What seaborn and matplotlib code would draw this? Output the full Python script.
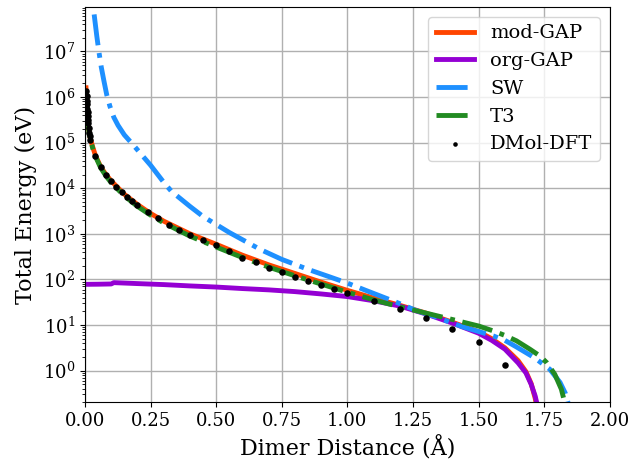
import matplotlib
matplotlib.use("Agg")
import matplotlib.pyplot as plt
import seaborn as sns

plt.rcParams['font.family'] = 'DejaVu Serif'
plt.rcParams['mathtext.fontset'] = 'dejavuserif'

# DMol-DFT reference points
dft_r = [0.005, 0.006, 0.007, 0.008, 0.009, 0.010, 0.011, 0.012, 0.013, 0.015,
         0.017, 0.019, 0.021, 0.04, 0.06, 0.08, 0.10, 0.12, 0.14, 0.16, 0.18,
         0.20, 0.24, 0.28, 0.32, 0.36, 0.40, 0.45, 0.50, 0.55, 0.60, 0.65,
         0.70, 0.75, 0.80, 0.85, 0.90, 0.95, 1.00, 1.10, 1.20, 1.30, 1.40,
         1.50, 1.60]
dft_e = [1.35e6, 1.05e6, 8.3e5, 6.9e5, 5.6e5, 4.6e5, 3.8e5, 3.2e5, 2.75e5,
         2.14e5, 1.66e5, 1.38e5, 1.17e5, 5.2e4, 2.95e4, 2.0e4, 1.45e4, 1.07e4,
         8.3e3, 6.5e3, 5.2e3, 4.3e3, 3.0e3, 2.2e3, 1.6e3, 1.2e3, 955, 725,
         560, 415, 300, 240, 182, 145, 112, 92, 76, 62, 50, 34, 22.4, 14,
         8.0, 4.2, 1.3]

# mod-GAP
mod_r = [0.004, 0.006, 0.008, 0.01, 0.015, 0.02, 0.03, 0.04, 0.06, 0.08, 0.10,
         0.15, 0.20, 0.25, 0.30, 0.40, 0.50, 0.60, 0.70, 0.80, 0.90, 1.00,
         1.10, 1.20, 1.30, 1.40, 1.50, 1.55, 1.60, 1.65, 1.68, 1.70, 1.715,
         1.722]
mod_e = [1.6e6, 1.0e6, 6.9e5, 4.7e5, 1.9e5, 1.26e5, 7.9e4, 5.2e4, 2.95e4,
         2.0e4, 1.45e4, 7.4e3, 4.4e3, 2.8e3, 1.9e3, 1.0e3, 590, 340, 209,
         135, 87, 57.5, 39, 27, 18.2, 11.5, 7.1, 5.0, 3.16, 1.66, 0.95, 0.52,
         0.25, 0.16]

# org-GAP
org_r = [0.0, 0.05, 0.10, 0.11, 0.2, 0.3, 0.4, 0.5, 0.6, 0.7, 0.8, 0.9, 1.0,
         1.1, 1.2, 1.3, 1.4, 1.5, 1.55, 1.6, 1.65, 1.68, 1.70, 1.715, 1.725]
org_e = [78, 78.5, 79.5, 85, 81, 77, 72, 68, 63, 59, 54, 48, 42, 34, 26,
         17.4, 11, 6.6, 4.6, 2.95, 1.48, 0.89, 0.5, 0.28, 0.16]

# SW
sw_r = [0.035, 0.045, 0.053, 0.062, 0.072, 0.083, 0.095, 0.11, 0.126, 0.15,
        0.184, 0.25, 0.30, 0.33, 0.40, 0.45, 0.55, 0.667, 0.75, 0.85, 0.93,
        1.0, 1.07, 1.19, 1.26, 1.33, 1.44, 1.50, 1.556, 1.60, 1.644, 1.707,
        1.727, 1.771, 1.81, 1.83, 1.845]
sw_e = [6.5e7, 2.2e7, 1.0e7, 4.6e6, 2.3e6, 1.12e6, 6.3e5, 3.6e5, 2.4e5,
        1.48e5, 8.9e4, 3.2e4, 1.35e4, 8.5e3, 4.0e3, 2.4e3, 1.07e3, 457, 275,
        166, 115, 83, 57.5, 31, 21, 15.5, 9.1, 7.2, 5.75, 4.6, 3.3, 2.0,
        1.66, 1.07, 0.55, 0.32, 0.16]

# T3
t3_r = [0.008, 0.01, 0.015, 0.02, 0.03, 0.04, 0.06, 0.08, 0.10, 0.15, 0.20,
        0.25, 0.30, 0.40, 0.50, 0.60, 0.70, 0.80, 0.90, 1.00, 1.10, 1.20,
        1.30, 1.40, 1.50, 1.556, 1.60, 1.644, 1.695, 1.733, 1.759, 1.79,
        1.815, 1.832]
t3_e = [6.3e5, 4.2e5, 1.78e5, 1.17e5, 7.4e4, 5.0e4, 2.8e4, 1.86e4, 1.32e4,
        6.8e3, 4.0e3, 2.57e3, 1.74e3, 890, 513, 302, 186, 120, 79, 52.5,
        35.5, 25, 18.2, 13.2, 9.5, 7.4, 5.9, 4.5, 2.95, 2.1, 1.5, 0.83,
        0.39, 0.16]

fig, ax = plt.subplots(figsize=(6.34, 4.61), dpi=100)
fig.subplots_adjust(left=0.134, right=0.962, top=0.985, bottom=0.127)

sns.lineplot(x=mod_r, y=mod_e, ax=ax, color='orangered', lw=3.5,
             label='mod-GAP')
sns.lineplot(x=org_r, y=org_e, ax=ax, color='darkviolet', lw=3.5,
             label='org-GAP')
sns.lineplot(x=sw_r, y=sw_e, ax=ax, color='dodgerblue', lw=3.5,
             linestyle='-.', label='SW')
sns.lineplot(x=t3_r, y=t3_e, ax=ax, color='forestgreen', lw=3.5,
             linestyle='-.', label='T3')
sns.scatterplot(x=dft_r, y=dft_e, ax=ax, color='k', s=22, linewidth=0,
                zorder=5, label='DMol-DFT')

ax.set_yscale('log')
ax.set_xlim(0, 2.0)
ax.set_ylim(0.2, 9.5e7)
ax.set_xticks([0, 0.25, 0.5, 0.75, 1.0, 1.25, 1.5, 1.75, 2.0])
ax.grid(True, which='major', color='#b0b0b0', lw=1)
ax.set_axisbelow(True)
ax.tick_params(labelsize=13)
ax.set_xlabel('Dimer Distance (Å)', fontsize=16)
ax.set_ylabel('Total Energy (eV)', fontsize=16)
ax.legend(loc='upper right', fontsize=14, handlelength=2, markerscale=0.7)

fig.savefig('out.png', dpi=100)
